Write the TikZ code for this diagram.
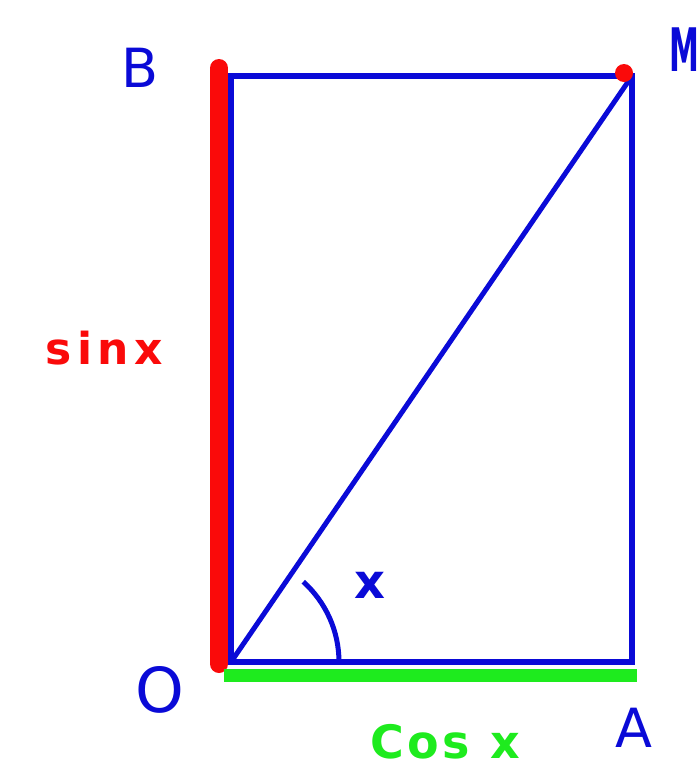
\documentclass[tikz,border=0pt]{standalone}
\usepackage{fontspec}
\setmainfont{DejaVu Sans}
\usetikzlibrary{calc}
\definecolor{pblue}{RGB}{10,10,215}
\definecolor{pred}{RGB}{250,10,10}
\definecolor{pgreen}{RGB}{30,235,30}
\tikzset{
  edge/.style={pblue, line width=6pt},
  lbl/.style={pblue, inner sep=0pt, font=\fontsize{54}{60}\selectfont},
  redlbl/.style={pred, inner sep=0pt, font=\fontsize{44}{50}\selectfont\bfseries\addfontfeature{LetterSpace=12}},
  greenlbl/.style={pgreen, inner sep=0pt, font=\fontsize{46}{50}\selectfont\bfseries\addfontfeature{LetterSpace=8}},
}
\begin{document}
\begin{tikzpicture}[x=1pt,y=-1pt]
\useasboundingbox (0,0) rectangle (698,777);
\coordinate (O) at (231,662);
\coordinate (A) at (632,662);
\coordinate (B) at (231,76);
\coordinate (M) at (632,76);
\coordinate (Rt) at (219,68);
\coordinate (Rb) at (219,664);
\coordinate (Gl) at (224,675);
\coordinate (Gr) at (637,675);
% sin and cos segments
\draw[pred, line width=18pt, line cap=round] (Rt) -- (Rb);
\draw[pgreen, line width=13pt] (Gl) -- (Gr);
% rectangle and diagonal
\draw[edge, line join=miter] (O) -- (A) -- (M) -- (B) -- cycle;
\draw[edge, line width=5pt] (O) -- (M);
\fill[pred] ($(M)+(-8,-3)$) circle (9);
% angle
\draw[pblue, line width=5pt] ($(O)+(108,0)$) arc[start angle=0, end angle=-48, radius=108];
% labels
\node[lbl, anchor=west, xscale=0.5, transform shape, font=\fontsize{60}{64}\selectfont\bfseries] (lM) at (669,50) {M};
\node[lbl] (lB) at (140,68) {B};
\node[lbl, font=\fontsize{62}{66}\selectfont] (lO) at (160,690) {O};
\node[lbl] (lA) at (634,728) {A};
\node[lbl, font=\fontsize{48}{50}\selectfont\bfseries] (lx) at (370,585) {x};
\node[redlbl] (ls) at (104,348) {sinx};
\node[greenlbl] (lc) at (445,742) {Cos x};
\end{tikzpicture}
\end{document}
